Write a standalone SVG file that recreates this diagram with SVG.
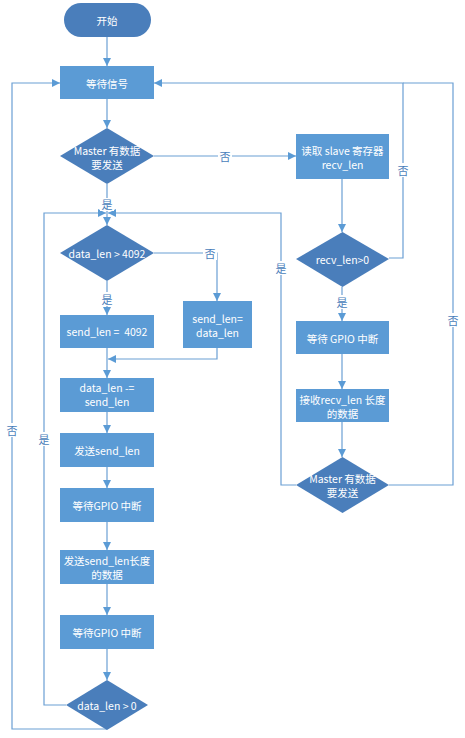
<svg xmlns="http://www.w3.org/2000/svg" width="465" height="738" viewBox="0 0 465 738">
<defs>
<style>
.box{fill:#5b9bd5;}
.dec{fill:#4a7ebb;}
.t{fill:#ffffff;font-family:"Noto Sans CJK SC","Noto Sans",sans-serif;font-size:10.5px;text-anchor:middle;dominant-baseline:central;white-space:pre;}
.c{fill:none;stroke:#6b9fd4;stroke-width:1.2;}
.lbl{fill:#4a7ebb;font-family:"Noto Sans CJK SC",sans-serif;font-size:11px;text-anchor:middle;dominant-baseline:central;}
.bg{fill:#ffffff;}
</style>
<marker id="arr" viewBox="0 0 10 10" refX="10" refY="5" markerWidth="8" markerHeight="8" markerUnits="userSpaceOnUse" orient="auto">
<path d="M0,0 L10,5 L0,10 z" fill="#5b9bd5"/>
</marker>
</defs>
<rect width="465" height="738" fill="#ffffff"/>
<g id="connectors">
<path class="c" d="M107,37 V66" marker-end="url(#arr)"/>
<path class="c" d="M107,99 V128" marker-end="url(#arr)"/>
<path class="c" d="M154,156 H296" marker-end="url(#arr)"/>
<path class="c" d="M107,184 V225" marker-end="url(#arr)"/>
<path class="c" d="M154,253 H217 V301" marker-end="url(#arr)"/>
<path class="c" d="M107,281 V315" marker-end="url(#arr)"/>
<path class="c" d="M107,348 V378" marker-end="url(#arr)"/>
<path class="c" d="M217,348 V359 H108" marker-end="url(#arr)"/>
<path class="c" d="M107,412 V433" marker-end="url(#arr)"/>
<path class="c" d="M107,467 V488" marker-end="url(#arr)"/>
<path class="c" d="M107,522 V550" marker-end="url(#arr)"/>
<path class="c" d="M107,584 V615" marker-end="url(#arr)"/>
<path class="c" d="M107,649 V680" marker-end="url(#arr)"/>
<path class="c" d="M66,705 H44 V213 H106" marker-end="url(#arr)"/>
<path class="c" d="M107,729 H12 V83 H60" marker-end="url(#arr)"/>
<path class="c" d="M342,179 V232" marker-end="url(#arr)"/>
<path class="c" d="M389,258 H403 V83 H154" marker-end="url(#arr)"/>
<path class="c" d="M342,287 V321" marker-end="url(#arr)"/>
<path class="c" d="M342,354 V389" marker-end="url(#arr)"/>
<path class="c" d="M342,422 V457" marker-end="url(#arr)"/>
<path class="c" d="M296,485 H281 V213 H108" marker-end="url(#arr)"/>
<path class="c" d="M389,485 H453 V83 H403"/>
<rect class="bg" x="218" y="149" width="14" height="14"/>
<text class="lbl" x="225" y="156">否</text>
<rect class="bg" x="100" y="198" width="14" height="13"/>
<text class="lbl" x="107" y="204">是</text>
<rect class="bg" x="203" y="246" width="14" height="14"/>
<text class="lbl" x="210" y="253">否</text>
<rect class="bg" x="100" y="292" width="14" height="14"/>
<text class="lbl" x="107" y="299">是</text>
<rect class="bg" x="37" y="432" width="14" height="14"/>
<text class="lbl" x="44" y="439">是</text>
<rect class="bg" x="5" y="423" width="14" height="14"/>
<text class="lbl" x="12" y="430">否</text>
<rect class="bg" x="396" y="163" width="14" height="14"/>
<text class="lbl" x="403" y="170">否</text>
<rect class="bg" x="335" y="295" width="14" height="14"/>
<text class="lbl" x="342" y="302">是</text>
<rect class="bg" x="274" y="261" width="14" height="14"/>
<text class="lbl" x="281" y="268">是</text>
<rect class="bg" x="446" y="313" width="14" height="14"/>
<text class="lbl" x="453" y="320">否</text>
</g>
<g id="start"><rect class="dec" x="64" y="3" width="87" height="34" rx="17"/><text class="t" x="107" y="20">开始</text></g>
<g id="wait-signal"><rect class="box" x="60" y="66" width="94" height="33"/><text class="t" x="107" y="83">等待信号</text></g>
<g id="master-send-1"><polygon class="dec" points="107,128 154,156 107,184 60,156"/><text class="t" x="107" y="150">Master 有数据</text><text class="t" x="107" y="164">要发送</text></g>
<g id="read-slave"><rect class="box" x="296" y="134" width="93" height="45"/><text class="t" x="342.5" y="150">读取 slave 寄存器</text><text class="t" x="342.5" y="164">recv_len</text></g>
<g id="datalen-gt-4092"><polygon class="dec" points="107,225 154,253 107,281 60,253"/><text class="t" x="107" y="253">data_len &gt; 4092</text></g>
<g id="sendlen-4092"><rect class="box" x="60" y="315" width="94" height="33"/><text class="t" x="107" y="331" xml:space="preserve">send_len =  4092</text></g>
<g id="sendlen-datalen"><rect class="box" x="183" y="301" width="69" height="47"/><text class="t" x="217.5" y="318">send_len=</text><text class="t" x="217.5" y="332">data_len</text></g>
<g id="datalen-minus"><rect class="box" x="60" y="378" width="94" height="34"/><text class="t" x="107" y="387">data_len -=</text><text class="t" x="107" y="401">send_len</text></g>
<g id="send-sendlen"><rect class="box" x="60" y="433" width="94" height="34"/><text class="t" x="107" y="450">发送send_len</text></g>
<g id="wait-gpio-1"><rect class="box" x="60" y="488" width="94" height="34"/><text class="t" x="107" y="505">等待GPIO 中断</text></g>
<g id="send-data"><rect class="box" x="60" y="550" width="94" height="34"/><text class="t" x="107" y="560">发送send_len长度</text><text class="t" x="107" y="574">的数据</text></g>
<g id="wait-gpio-2"><rect class="box" x="60" y="615" width="94" height="34"/><text class="t" x="107" y="632">等待GPIO 中断</text></g>
<g id="datalen-gt-0"><polygon class="dec" points="107,680 148,705 107,730 66,705"/><text class="t" x="107" y="705">data_len &gt; 0</text></g>
<g id="recvlen-gt-0"><polygon class="dec" points="342.5,232 389,259 342.5,287 296,259"/><text class="t" x="342.5" y="259">recv_len&gt;0</text></g>
<g id="wait-gpio-r"><rect class="box" x="296" y="321" width="93" height="33"/><text class="t" x="342.5" y="338">等待 GPIO 中断</text></g>
<g id="recv-data"><rect class="box" x="296" y="389" width="93" height="33"/><text class="t" x="342.5" y="399">接收recv_len 长度</text><text class="t" x="342.5" y="413">的数据</text></g>
<g id="master-send-2"><polygon class="dec" points="342.5,457 389,485 342.5,513 296,485"/><text class="t" x="342.5" y="478">Master 有数据</text><text class="t" x="342.5" y="492">要发送</text></g>
</svg>
